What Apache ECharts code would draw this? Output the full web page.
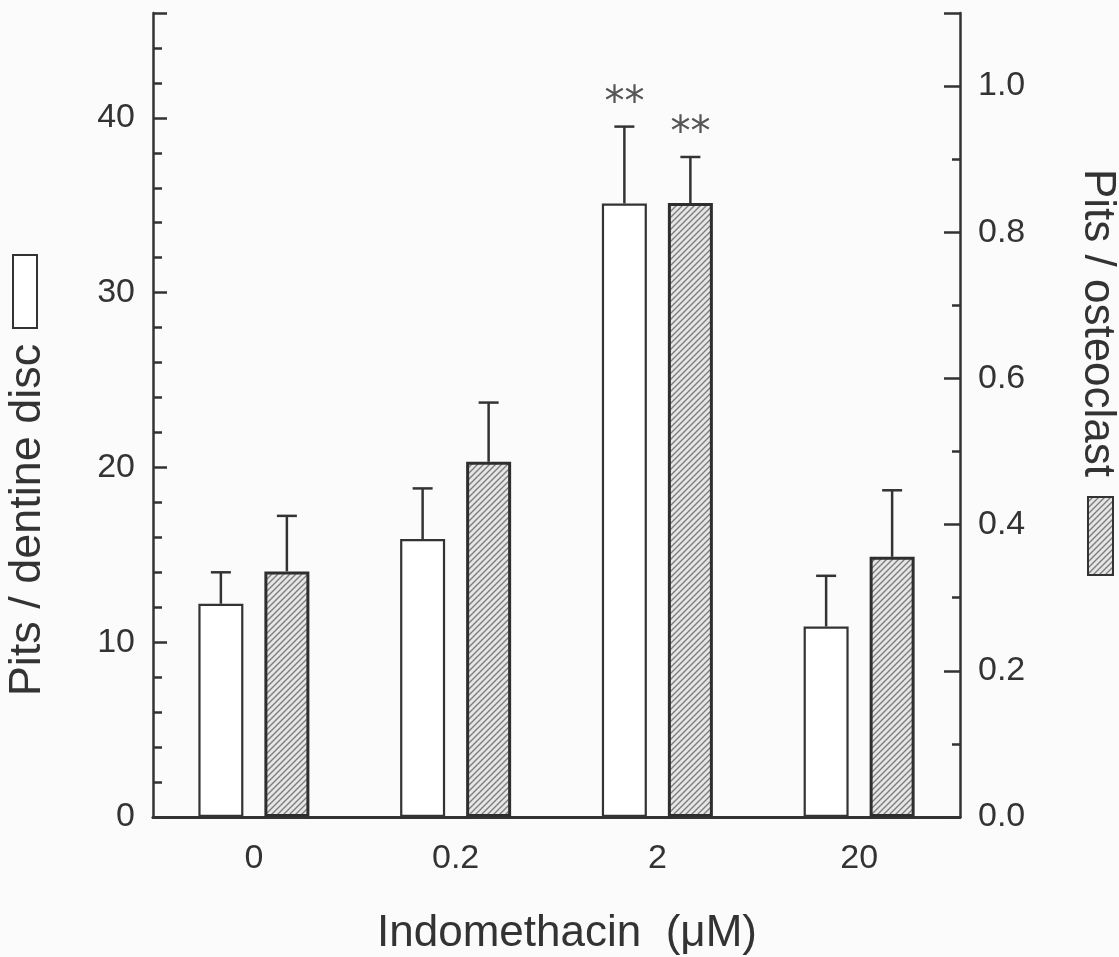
<!DOCTYPE html>
<html><head><meta charset="utf-8">
<script src="https://cdn.jsdelivr.net/npm/echarts@6/dist/echarts.min.js"></script>
<style>html,body{margin:0;padding:0;background:#fbfbfb}#c{width:1119px;height:957px}</style>
</head><body><div id="c"></div>
<script>
// ---- data ----
const categories = ['0', '0.2', '2', '20'];
const discMeans = [12.2, 15.9, 35.1, 10.9];      // Pits / dentine disc (left axis)
const discErr   = [1.8, 2.9, 4.4, 2.9];
const osteoMeans = [0.336, 0.486, 0.840, 0.356]; // Pits / osteoclast (right axis)
const osteoErr   = [0.076, 0.081, 0.063, 0.091];
const discSig  = ['', '', '**', ''];
const osteoSig = ['', '', '**', ''];
const leftMax = 46, rightMax = 1.1;
const xTitle = 'Indomethacin  (\u03BCM)';
const leftTitle = 'Pits / dentine disc';
const rightTitle = 'Pits / osteoclast';

// ---- styles ----
const INK = '#333';
const FONT = '"Liberation Sans", Arial, Helvetica, sans-serif';

function hatch() {
  const n = 6;
  const c = document.createElement('canvas'); c.width = n; c.height = n;
  const g = c.getContext('2d');
  g.fillStyle = '#e6e6e6'; g.fillRect(0, 0, n, n);
  g.strokeStyle = '#7d7d7d'; g.lineWidth = 1.4;
  g.beginPath();
  g.moveTo(-1, n + 1); g.lineTo(n + 1, -1);
  g.moveTo(-2, 2); g.lineTo(2, -2);
  g.moveTo(n - 2, n + 2); g.lineTo(n + 2, n - 2);
  g.stroke();
  return c;
}
const hatchImg = hatch();
const hatchFill = { image: hatchImg, repeat: 'repeat' };

const BAR_W = 45, GAP = 21, OFF = (BAR_W + GAP) / 2;

function errSeries(means, errs, sig, yIdx, offset) {
  return {
    type: 'custom', xAxisIndex: 0, yAxisIndex: yIdx, z: 5, silent: true,
    data: means.map((m, i) => [i, m, m + errs[i]]),
    renderItem(params, api) {
      const b = api.coord([api.value(0), api.value(1)]);
      const t = api.coord([api.value(0), api.value(2)]);
      const x = b[0] + offset;
      const ch = [
        { type: 'line', shape: { x1: x, y1: b[1], x2: x, y2: t[1] }, style: { stroke: INK, lineWidth: 2.5 } },
        { type: 'line', shape: { x1: x - 10, y1: t[1], x2: x + 10, y2: t[1] }, style: { stroke: INK, lineWidth: 2.5 } }
      ];
      const s = sig[params.dataIndex];
      if (s) ch.push({ type: 'text', x: x, y: t[1] - 22,
        style: { text: s, align: 'center', verticalAlign: 'middle', fill: '#555', font: '40px "DejaVu Sans", sans-serif' } });
      return { type: 'group', children: ch };
    }
  };
}

const labelStyle = { color: INK, fontSize: 34, fontFamily: FONT };

const option = {
  backgroundColor: '#fbfbfb',
  animation: false,
  grid: { left: 153, right: 159, top: 13, bottom: 140, containLabel: false },
  xAxis: [
    { type: 'category', data: categories, position: 'bottom',
      axisLine: { show: true, lineStyle: { color: INK, width: 2.5 } },
      axisTick: { show: false },
      axisLabel: Object.assign({ margin: 25 }, labelStyle) },
    { type: 'category', data: categories, position: 'top',
      axisLine: { show: true, lineStyle: { color: INK, width: 3 } },
      axisTick: { show: false }, axisLabel: { show: false } }
  ],
  yAxis: [
    { type: 'value', position: 'left', min: 0, max: leftMax, interval: 10,
      axisLine: { show: true, lineStyle: { color: INK, width: 2.5 } },
      axisTick: { show: true, inside: true, length: 14, lineStyle: { color: INK, width: 2.5 } },
      axisLabel: Object.assign({ margin: 18, formatter: v => (v % 10 === 0 ? String(v) : '') }, labelStyle),
      splitLine: { show: false } },
    { type: 'value', position: 'left', min: 0, max: leftMax, interval: 2,
      axisLine: { show: false },
      axisTick: { show: true, inside: true, length: 9, lineStyle: { color: INK, width: 2.5 } },
      axisLabel: { show: false }, splitLine: { show: false } },
    { type: 'value', position: 'right', min: 0, max: rightMax, interval: 0.2,
      axisLine: { show: true, lineStyle: { color: INK, width: 2.5 } },
      axisTick: { show: true, inside: true, length: 16, lineStyle: { color: INK, width: 2.5 } },
      axisLabel: Object.assign({ margin: 18,
        formatter: v => (Math.abs(v * 5 - Math.round(v * 5)) < 1e-6 ? v.toFixed(1) : '') }, labelStyle),
      splitLine: { show: false } },
    { type: 'value', position: 'right', min: 0, max: rightMax, interval: 0.1,
      axisLine: { show: false },
      axisTick: { show: true, inside: true, length: 8, lineStyle: { color: INK, width: 2.5 } },
      axisLabel: { show: false }, splitLine: { show: false } }
  ],
  series: [
    { type: 'bar', name: leftTitle, xAxisIndex: 0, yAxisIndex: 0, data: discMeans,
      barWidth: BAR_W, barGap: (GAP / BAR_W * 100).toFixed(1) + '%',
      itemStyle: { color: '#ffffff', borderColor: INK, borderWidth: 2.2 } },
    { type: 'bar', name: rightTitle, xAxisIndex: 0, yAxisIndex: 2, data: osteoMeans,
      barWidth: BAR_W,
      itemStyle: { color: hatchFill, borderColor: '#2e2e2e', borderWidth: 3 } },
    errSeries(discMeans, discErr, discSig, 0, -OFF),
    errSeries(osteoMeans, osteoErr, osteoSig, 2, OFF)
  ],
  graphic: [
    { type: 'text', x: 567, y: 934, style: { text: xTitle, font: '44px ' + FONT, fill: INK, align: 'center', verticalAlign: 'middle' } },
    { type: 'text', x: 28, y: 520, rotation: Math.PI / 2, style: { text: leftTitle, font: '45px ' + FONT, fill: INK, align: 'center', verticalAlign: 'middle' } },
    { type: 'rect', shape: { x: 13, y: 255, width: 24, height: 73 }, style: { fill: '#ffffff', stroke: INK, lineWidth: 2 } },
    { type: 'text', x: 1097, y: 323, rotation: -Math.PI / 2, style: { text: rightTitle, font: '44px ' + FONT, fill: INK, align: 'center', verticalAlign: 'middle' } },
    { type: 'rect', shape: { x: 1088, y: 497, width: 25, height: 78 }, style: { fill: hatchFill, stroke: INK, lineWidth: 2 } }
  ]
};

const chart = echarts.init(document.getElementById('c'), null, { renderer: 'canvas' });
chart.setOption(option);
</script>
</body></html>
